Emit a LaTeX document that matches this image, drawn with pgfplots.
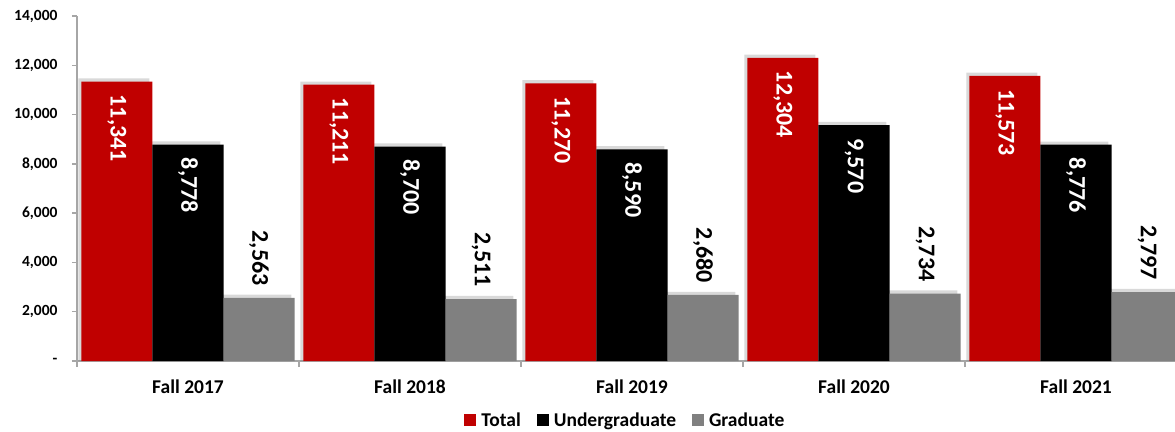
\documentclass[border=0pt]{standalone}
\usepackage{fontspec}
\setmainfont{Carlito}
\usepackage{pgfplots}
\pgfplotsset{compat=1.18}
\definecolor{cred}{HTML}{C00000}
\definecolor{cgrey}{HTML}{808080}
\definecolor{caxis}{HTML}{A6A6A6}
\begin{document}
\begin{tikzpicture}[x=1pt,y=1pt]
\begin{axis}[
  at={(0pt,0pt)}, anchor=south west,
  scale only axis, width=1110pt, height=345pt,
  xmin=-0.5, xmax=4.5, ymin=0, ymax=14000,
  ybar, bar width=0.32,
  axis x line*=bottom, axis y line*=left,
  axis line style={caxis, line width=1.5pt},
  xtick={0,1,2,3,4},
  xticklabels={Fall 2017,Fall 2018,Fall 2019,Fall 2020,Fall 2021},
  minor xtick={-0.5,0.5,1.5,2.5,3.5,4.5},
  major x tick style={draw=none},
  minor x tick style={caxis, line width=1.5pt},
  y tick style={caxis, line width=1.5pt},
  tick align=outside,
  minor tick length=6pt, major tick length=5pt,
  scaled y ticks=false,
  ytick={0,2000,4000,6000,8000,10000,12000,14000},
  yticklabels={{-\hspace{9pt}},{2,000},{4,000},{6,000},{8,000},{10,000},{12,000},{14,000}},
  yticklabel style={font=\fontsize{15.5}{17}\selectfont\bfseries, xshift=-11pt},
  xticklabel style={font=\fontsize{19.5}{22}\selectfont\bfseries, yshift=-10pt},
  legend style={at={(0.494,-0.171)}, anchor=center, legend columns=3, draw=none,
    font=\fontsize{19.5}{22}\selectfont\bfseries,
    /tikz/every odd column/.style={column sep=3pt},
    /tikz/every even column/.style={column sep=14pt}},
  legend image code/.code={\fill[#1] (0pt,-6pt) rectangle (12pt,6pt);},
  every node near coord/.append style={rotate=-90, font=\fontsize{24}{26}\selectfont\bfseries},
]
\addlegendimage{fill=cred,draw=none}
\addlegendimage{fill=black,draw=none}
\addlegendimage{fill=cgrey,draw=none}

% soft shadows (drawn first)
\addplot[forget plot, fill=gray, fill opacity=0.3, draw=none, bar shift=-0.334]
  coordinates {(0,11471) (1,11341) (2,11400) (3,12434) (4,11703)};
\addplot[forget plot, fill=gray, fill opacity=0.3, draw=none, bar shift=-0.014]
  coordinates {(0,8908) (1,8830) (2,8720) (3,9700) (4,8906)};
\addplot[forget plot, fill=gray, fill opacity=0.3, draw=none, bar shift=0.306]
  coordinates {(0,2693) (1,2641) (2,2810) (3,2864) (4,2927)};

\addplot[forget plot, fill=cred, draw=none, bar shift=-0.32,
  nodes near coords={\pgfmathprintnumber[fixed,1000 sep={,},assume math mode=true]{\pgfplotspointmeta}},
  every node near coord/.append style={white, anchor=west, inner xsep=13pt}]
  coordinates {(0,11341) (1,11211) (2,11270) (3,12304) (4,11573)};
\addplot[forget plot, fill=black, draw=none, bar shift=0,
  nodes near coords={\pgfmathprintnumber[fixed,1000 sep={,},assume math mode=true]{\pgfplotspointmeta}},
  every node near coord/.append style={white, anchor=west, inner xsep=13pt}]
  coordinates {(0,8778) (1,8700) (2,8590) (3,9570) (4,8776)};
\addplot[forget plot, fill=cgrey, draw=none, bar shift=0.32,
  nodes near coords={\pgfmathprintnumber[fixed,1000 sep={,},assume math mode=true]{\pgfplotspointmeta}},
  every node near coord/.append style={black, anchor=east, inner xsep=12pt}]
  coordinates {(0,2563) (1,2511) (2,2680) (3,2734) (4,2797)};
\legend{Total,Undergraduate,Graduate}
\end{axis}
\pgfresetboundingbox
\path[use as bounding box] (-77pt,-70pt) rectangle (1098pt,361pt);
\end{tikzpicture}
\end{document}
